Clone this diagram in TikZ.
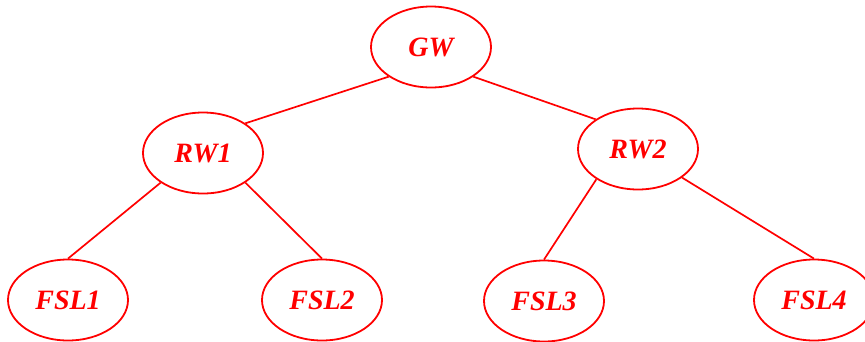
\documentclass[tikz,border=0pt]{standalone}
\usepackage{fontspec}
\setmainfont{Liberation Serif}
\usetikzlibrary{shapes.geometric}
\tikzset{
  nd/.style={ellipse, draw=red, line width=1.8pt, minimum width=120pt, minimum height=81pt, inner sep=0pt,
    text=red, font=\fontsize{28}{30}\selectfont\bfseries\itshape},
  link/.style={draw=red, line width=1.7pt}
}
\begin{document}
\begin{tikzpicture}[x=1pt,y=-1pt]
\useasboundingbox (0,0) rectangle (865,341);
\clip (0,0) rectangle (865,341);
\node[nd] (GW) at (431,47) {GW};
\node[nd] (RW1) at (203,153) {RW1};
\node[nd] (RW2) at (638,149) {RW2};
\node[nd] (FSL1) at (68,300) {FSL1};
\node[nd] (FSL2) at (322,300) {FSL2};
\node[nd] (FSL3) at (544,301) {FSL3};
\node[nd] (FSL4) at (814,300) {FSL4};
\draw[link] (GW.215) -- (RW1.35);
\draw[link] (GW.325) -- (RW2.145);
\draw[link] (RW1.215) -- (FSL1.north);
\draw[link] (RW1.325) -- (FSL2.north);
\draw[link] (RW2.216) -- (FSL3.north);
\draw[link] (RW2.327) -- (FSL4.north);
\end{tikzpicture}
\end{document}
